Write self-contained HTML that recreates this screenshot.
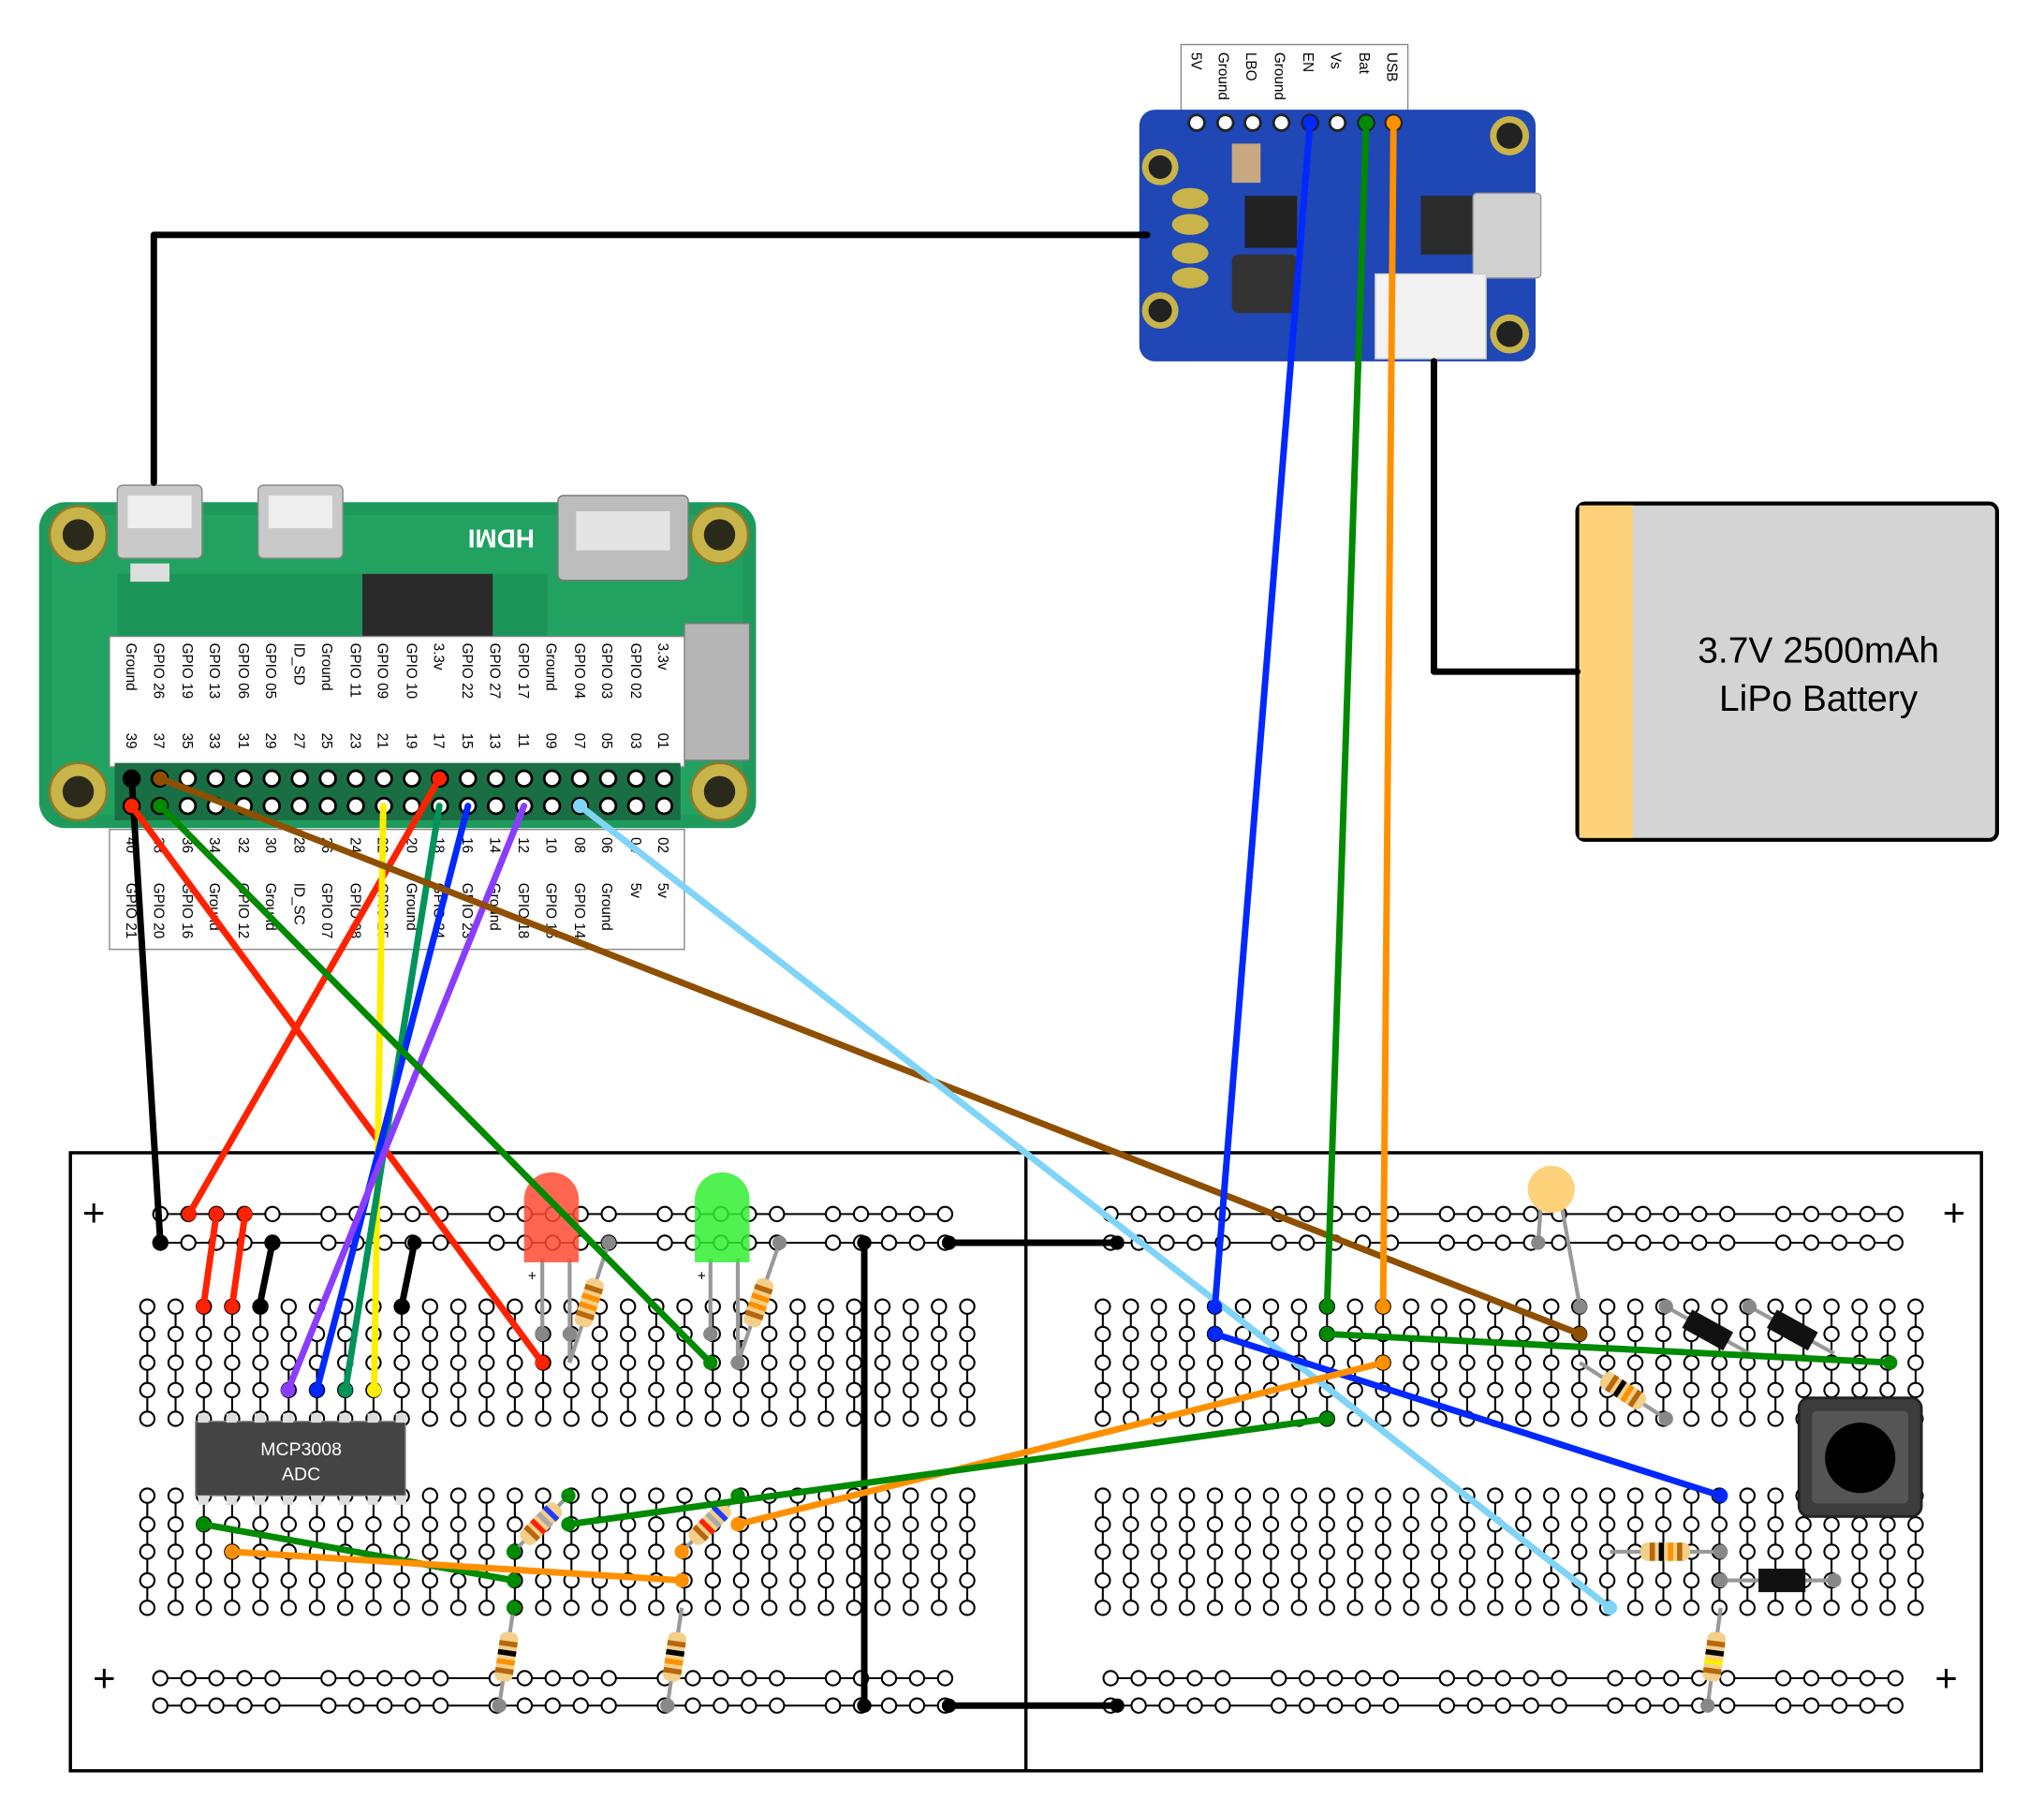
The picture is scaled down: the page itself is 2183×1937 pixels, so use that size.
<!DOCTYPE html>
<html><head><meta charset="utf-8"><style>
html,body{margin:0;padding:0;background:#fff}
svg{display:block}
text{font-family:"Liberation Sans",sans-serif}
</style></head><body>
<svg id="s" width="2183" height="1937" viewBox="0 0 1568 1391" xmlns="http://www.w3.org/2000/svg">
<rect x="0" y="0" width="1568" height="1391" fill="#fff"/>
<rect x="54" y="884" width="1466" height="474" fill="#fff" stroke="#000" stroke-width="2.5"/>
<line x1="787" y1="884" x2="787" y2="1358" stroke="#000" stroke-width="2.5"/>
<text x="72" y="940" font-size="30" text-anchor="middle">+</text>
<text x="1499" y="940" font-size="30" text-anchor="middle">+</text>
<text x="80" y="1297" font-size="30" text-anchor="middle">+</text>
<text x="1493" y="1297" font-size="30" text-anchor="middle">+</text>
<g id="holes"></g>

<rect x="30" y="385" width="550" height="250" rx="20" fill="#1e9b5c"/>
<rect x="40" y="395" width="530" height="230" rx="14" fill="#23a764" opacity="0.6"/>
<path d="M90 440 L420 440 L420 500 L90 500Z" fill="#178a4f" opacity="0.5"/>
<rect x="278" y="440" width="100" height="50" fill="#2a2a2a"/>
<rect x="100" y="432" width="30" height="14" fill="#ddd"/>
<rect x="90" y="372" width="65" height="56" rx="4" fill="#c9c9c9" stroke="#888"/>
<rect x="98" y="380" width="49" height="25" fill="#eee"/>
<rect x="198" y="372" width="65" height="56" rx="4" fill="#c9c9c9" stroke="#888"/>
<rect x="206" y="380" width="49" height="25" fill="#eee"/>
<rect x="428" y="380" width="100" height="65" rx="4" fill="#bdbdbd" stroke="#777"/>
<rect x="442" y="392" width="72" height="30" fill="#e4e4e4"/>
<rect x="525" y="478" width="50" height="105" fill="#b5b5b5" stroke="#777"/>
<text x="350" y="418" font-size="20" font-weight="bold" fill="#fff" transform="rotate(180 380 412)">HDMI</text>
<g fill="#c9b44a" stroke="#8a7a2a" stroke-width="2">
<circle cx="60" cy="410" r="22"/><circle cx="552" cy="410" r="22"/><circle cx="60" cy="607" r="22"/><circle cx="552" cy="607" r="22"/></g>
<g fill="#2b2a1a"><circle cx="60" cy="410" r="12"/><circle cx="552" cy="410" r="12"/><circle cx="60" cy="607" r="12"/><circle cx="552" cy="607" r="12"/></g>
<rect x="84" y="488" width="441" height="100" fill="#fff" stroke="#888"/>
<rect x="84" y="636" width="441" height="92" fill="#fff" stroke="#888"/>
<rect x="88" y="585" width="434" height="44" fill="#1a6e44"/>
<g id="pihdr"></g>
<g font-size="11" fill="#000">
<text transform="translate(97 493) rotate(90)">Ground</text>
<text transform="translate(118 493) rotate(90)">GPIO 26</text>
<text transform="translate(140 493) rotate(90)">GPIO 19</text>
<text transform="translate(161 493) rotate(90)">GPIO 13</text>
<text transform="translate(183 493) rotate(90)">GPIO 06</text>
<text transform="translate(204 493) rotate(90)">GPIO 05</text>
<text transform="translate(226 493) rotate(90)">ID_SD</text>
<text transform="translate(247 493) rotate(90)">Ground</text>
<text transform="translate(269 493) rotate(90)">GPIO 11</text>
<text transform="translate(290 493) rotate(90)">GPIO 09</text>
<text transform="translate(312 493) rotate(90)">GPIO 10</text>
<text transform="translate(333 493) rotate(90)">3.3v</text>
<text transform="translate(355 493) rotate(90)">GPIO 22</text>
<text transform="translate(376 493) rotate(90)">GPIO 27</text>
<text transform="translate(398 493) rotate(90)">GPIO 17</text>
<text transform="translate(419 493) rotate(90)">Ground</text>
<text transform="translate(441 493) rotate(90)">GPIO 04</text>
<text transform="translate(462 493) rotate(90)">GPIO 03</text>
<text transform="translate(484 493) rotate(90)">GPIO 02</text>
<text transform="translate(505 493) rotate(90)">3.3v</text>
<text transform="translate(97 562) rotate(90)">39</text>
<text transform="translate(118 562) rotate(90)">37</text>
<text transform="translate(140 562) rotate(90)">35</text>
<text transform="translate(161 562) rotate(90)">33</text>
<text transform="translate(183 562) rotate(90)">31</text>
<text transform="translate(204 562) rotate(90)">29</text>
<text transform="translate(226 562) rotate(90)">27</text>
<text transform="translate(247 562) rotate(90)">25</text>
<text transform="translate(269 562) rotate(90)">23</text>
<text transform="translate(290 562) rotate(90)">21</text>
<text transform="translate(312 562) rotate(90)">19</text>
<text transform="translate(333 562) rotate(90)">17</text>
<text transform="translate(355 562) rotate(90)">15</text>
<text transform="translate(376 562) rotate(90)">13</text>
<text transform="translate(398 562) rotate(90)">11</text>
<text transform="translate(419 562) rotate(90)">09</text>
<text transform="translate(441 562) rotate(90)">07</text>
<text transform="translate(462 562) rotate(90)">05</text>
<text transform="translate(484 562) rotate(90)">03</text>
<text transform="translate(505 562) rotate(90)">01</text>
<text transform="translate(97 642) rotate(90)">40</text>
<text transform="translate(118 642) rotate(90)">38</text>
<text transform="translate(140 642) rotate(90)">36</text>
<text transform="translate(161 642) rotate(90)">34</text>
<text transform="translate(183 642) rotate(90)">32</text>
<text transform="translate(204 642) rotate(90)">30</text>
<text transform="translate(226 642) rotate(90)">28</text>
<text transform="translate(247 642) rotate(90)">26</text>
<text transform="translate(269 642) rotate(90)">24</text>
<text transform="translate(290 642) rotate(90)">22</text>
<text transform="translate(312 642) rotate(90)">20</text>
<text transform="translate(333 642) rotate(90)">18</text>
<text transform="translate(355 642) rotate(90)">16</text>
<text transform="translate(376 642) rotate(90)">14</text>
<text transform="translate(398 642) rotate(90)">12</text>
<text transform="translate(419 642) rotate(90)">10</text>
<text transform="translate(441 642) rotate(90)">08</text>
<text transform="translate(462 642) rotate(90)">06</text>
<text transform="translate(484 642) rotate(90)">04</text>
<text transform="translate(505 642) rotate(90)">02</text>
<text transform="translate(97 677) rotate(90)">GPIO 21</text>
<text transform="translate(118 677) rotate(90)">GPIO 20</text>
<text transform="translate(140 677) rotate(90)">GPIO 16</text>
<text transform="translate(161 677) rotate(90)">Ground</text>
<text transform="translate(183 677) rotate(90)">GPIO 12</text>
<text transform="translate(204 677) rotate(90)">Ground</text>
<text transform="translate(226 677) rotate(90)">ID_SC</text>
<text transform="translate(247 677) rotate(90)">GPIO 07</text>
<text transform="translate(269 677) rotate(90)">GPIO 08</text>
<text transform="translate(290 677) rotate(90)">GPIO 25</text>
<text transform="translate(312 677) rotate(90)">Ground</text>
<text transform="translate(333 677) rotate(90)">GPIO 24</text>
<text transform="translate(355 677) rotate(90)">GPIO 23</text>
<text transform="translate(376 677) rotate(90)">Ground</text>
<text transform="translate(398 677) rotate(90)">GPIO 18</text>
<text transform="translate(419 677) rotate(90)">GPIO 15</text>
<text transform="translate(441 677) rotate(90)">GPIO 14</text>
<text transform="translate(462 677) rotate(90)">Ground</text>
<text transform="translate(484 677) rotate(90)">5v</text>
<text transform="translate(505 677) rotate(90)">5v</text>
</g>

<rect x="906" y="34" width="174" height="52" fill="#fff" stroke="#888"/>
<g font-size="11">
<text transform="translate(914 40) rotate(90)">5V</text>
<text transform="translate(935 40) rotate(90)">Ground</text>
<text transform="translate(956 40) rotate(90)">LBO</text>
<text transform="translate(978 40) rotate(90)">Ground</text>
<text transform="translate(1000 40) rotate(90)">EN</text>
<text transform="translate(1021 40) rotate(90)">Vs</text>
<text transform="translate(1043 40) rotate(90)">Bat</text>
<text transform="translate(1064 40) rotate(90)">USB</text>
</g>
<rect x="874" y="84" width="304" height="193" rx="12" fill="#1f47b5"/>
<rect x="955" y="150" width="40" height="40" fill="#222"/>
<rect x="945" y="195" width="50" height="45" rx="5" fill="#333"/>
<rect x="1090" y="150" width="45" height="45" fill="#2b2b2b"/>
<rect x="1130" y="148" width="52" height="65" rx="3" fill="#d0d0d0" stroke="#999"/>
<rect x="1055" y="210" width="85" height="65" fill="#f2f2f2" stroke="#ccc"/>
<rect x="945" y="110" width="22" height="30" fill="#c8a880"/>
<g fill="#c9b44a"><circle cx="890" cy="128" r="14"/><circle cx="890" cy="238" r="14"/><circle cx="1158" cy="104" r="15"/><circle cx="1158" cy="256" r="15"/></g>
<g fill="#222"><circle cx="890" cy="128" r="9"/><circle cx="890" cy="238" r="9"/><circle cx="1158" cy="104" r="10"/><circle cx="1158" cy="256" r="10"/></g>
<g fill="#c9b44a"><ellipse cx="913" cy="172" rx="14" ry="8"/><ellipse cx="913" cy="194" rx="14" ry="8"/><ellipse cx="913" cy="213" rx="14" ry="8"/><ellipse cx="913" cy="152" rx="14" ry="8"/></g>
<g fill="#fff" stroke="#222" stroke-width="2">
<circle cx="918" cy="94" r="6"/><circle cx="940" cy="94" r="6"/><circle cx="961" cy="94" r="6"/><circle cx="983" cy="94" r="6"/><circle cx="1005" cy="94" r="6"/><circle cx="1026" cy="94" r="6"/><circle cx="1048" cy="94" r="6"/><circle cx="1069" cy="94" r="6"/></g>

<rect x="1210" y="386" width="322" height="258" rx="6" fill="#d4d4d4" stroke="#000" stroke-width="3"/>
<rect x="1211.5" y="387.5" width="41" height="255" fill="#fdd27a"/>
<text x="1395" y="508" font-size="28" text-anchor="middle">3.7V 2500mAh</text>
<text x="1395" y="545" font-size="28" text-anchor="middle">LiPo Battery</text>

<rect x="150" y="1090" width="161" height="57" fill="#444" stroke="#888"/>
<text x="231" y="1116" font-size="14" fill="#fff" text-anchor="middle">MCP3008</text>
<text x="231" y="1135" font-size="14" fill="#fff" text-anchor="middle">ADC</text>
<g fill="#ddd" id="chippins"></g>
<g stroke="#999" stroke-width="3"><line x1="416" y1="965" x2="416" y2="1023"/><line x1="437" y1="965" x2="437" y2="1045"/><line x1="545" y1="965" x2="545" y2="1023"/><line x1="566" y1="965" x2="566" y2="1045"/></g>
<path d="M402 968 L402 920 A21 21 0 0 1 444 920 L444 968Z" fill="#ff4b33" opacity="0.85"/>
<path d="M533 968 L533 920 A21 21 0 0 1 575 920 L575 968Z" fill="#33ee33" opacity="0.85"/>
<text x="405" y="982" font-size="11">+</text><text x="535" y="982" font-size="11">+</text>
<g id="res"></g>
<line x1="1182" y1="925" x2="1180" y2="953" stroke="#999" stroke-width="3"/>
<line x1="1198" y1="925" x2="1212" y2="1002" stroke="#999" stroke-width="3"/>
<circle cx="1190" cy="912" r="18" fill="#fdd27a"/>
<g stroke="#999" stroke-width="3"><line x1="1278" y1="1002" x2="1342" y2="1038"/><line x1="1342" y1="1002" x2="1407" y2="1038"/><line x1="1320" y1="1212" x2="1407" y2="1212"/></g>
<rect x="-18" y="-8" width="36" height="16" fill="#111" transform="translate(1310 1020) rotate(29)"/>
<rect x="-18" y="-8" width="36" height="16" fill="#111" transform="translate(1375 1020) rotate(29)"/>
<rect x="1349" y="1203" width="36" height="18" fill="#111"/>
<rect x="1380" y="1072" width="94" height="91" rx="8" fill="#3c3c3c" stroke="#222" stroke-width="2"/>
<rect x="1390" y="1082" width="74" height="71" rx="4" fill="#555"/>
<circle cx="1427" cy="1118" r="27" fill="#000"/>

<g fill="none" stroke-width="5" stroke-linecap="round" stroke-linejoin="round">
<polyline points="118,370 118,180 880,180" stroke="#000"/>
<polyline points="1100,277 1100,515 1210,515" stroke="#000"/>
<line x1="101" y1="597" x2="123" y2="953" stroke="#000"/>
<line x1="209" y1="953" x2="199" y2="1002" stroke="#000"/>
<line x1="318" y1="953" x2="308" y2="1002" stroke="#000"/>
<line x1="663" y1="953" x2="663" y2="1308" stroke="#000"/>
<line x1="728" y1="953" x2="857" y2="953" stroke="#000"/>
<line x1="728" y1="1308" x2="857" y2="1308" stroke="#000"/>
<line x1="166" y1="931" x2="156" y2="1002" stroke="#ff2200"/>
<line x1="188" y1="931" x2="178" y2="1002" stroke="#ff2200"/>
<line x1="337" y1="597" x2="145" y2="931" stroke="#ff2200"/>
<line x1="101" y1="618" x2="416" y2="1045" stroke="#ff2200"/>
<line x1="294" y1="618" x2="287" y2="1066" stroke="#ffee00"/>
<line x1="337" y1="618" x2="265" y2="1066" stroke="#00935a"/>
<line x1="359" y1="618" x2="243" y2="1066" stroke="#0028ff"/>
<line x1="402" y1="618" x2="221" y2="1066" stroke="#8b3dff"/>
<line x1="123" y1="618" x2="545" y2="1045" stroke="#008a00"/>
<line x1="123" y1="597" x2="1212" y2="1023" stroke="#8f4f00"/>
<line x1="445" y1="618" x2="1235" y2="1233" stroke="#7fd4f7"/>
<line x1="1005" y1="94" x2="932" y2="1002" stroke="#0028ff"/>
<line x1="1048" y1="94" x2="1018" y2="1002" stroke="#008a00"/>
<line x1="1069" y1="94" x2="1061" y2="1002" stroke="#ff9000"/>
<line x1="932" y1="1023" x2="1320" y2="1147" stroke="#0028ff"/>
<line x1="1018" y1="1023" x2="1450" y2="1045" stroke="#008a00"/>
<line x1="1061" y1="1045" x2="566" y2="1169" stroke="#ff9000"/>
<line x1="1018" y1="1088" x2="436" y2="1169" stroke="#008a00"/>
<line x1="156" y1="1169" x2="394" y2="1212" stroke="#008a00"/>
<line x1="178" y1="1190" x2="523" y2="1212" stroke="#ff9000"/>
</g>
<g id="ends"></g>
</svg>
<script>
(function(){
var NS="http://www.w3.org/2000/svg";
function el(p,t,a){var e=document.createElementNS(NS,t);for(var k in a)e.setAttribute(k,a[k]);p.appendChild(e);return e;}
var H=document.getElementById('holes');
function col(x,ys){el(H,'line',{x1:x,y1:ys[0],x2:x,y2:ys[ys.length-1],stroke:'#000','stroke-width':1.5});ys.forEach(function(y){el(H,'circle',{cx:x,cy:y,r:5.5,fill:'#fff',stroke:'#000','stroke-width':1.5});});}
var rowsA=[1002,1023,1045,1066,1088],rowsB=[1147,1169,1190,1212,1233];
for(var i=0;i<30;i++){var x=113+i*21.69;col(x,rowsA);col(x,rowsB);var x2=846+i*21.5;col(x2,rowsA);col(x2,rowsB);}
function rail(x0,y){for(var g=0;g<5;g++){var gx=x0+g*129;el(H,'line',{x1:gx,y1:y,x2:gx+86+(g<4?43:0),y2:y,stroke:'#000','stroke-width':1.5});}
for(var g2=0;g2<5;g2++)for(var j=0;j<5;j++)el(H,'circle',{cx:x0+g2*129+j*21.5,cy:y,r:5.5,fill:'#fff',stroke:'#000','stroke-width':1.5});}
[931,953,1287,1308].forEach(function(y){rail(123,y);rail(852,y);});
var P=document.getElementById('pihdr');
for(var i2=0;i2<20;i2++){(function(x){[597,618].forEach(function(y){el(P,'circle',{cx:x,cy:y,r:6,fill:'#fff',stroke:'#000','stroke-width':2});});})(101+i2*21.5);}
var C=document.getElementById('chippins');
for(var k=0;k<8;k++){var cx0=156+k*21.66;el(C,'rect',{x:cx0-4,y:1084,width:8,height:7});el(C,'rect',{x:cx0-4,y:1147,width:8,height:7});}
var R=document.getElementById('res');
function res(x1,y1,x2,y2,bands){el(R,'line',{x1:x1,y1:y1,x2:x2,y2:y2,stroke:'#999','stroke-width':3});
var cx=(x1+x2)/2,cy=(y1+y2)/2,a=Math.atan2(y2-y1,x2-x1)*180/Math.PI;var g=el(R,'g',{transform:'translate('+cx+' '+cy+') rotate('+a+')'});
el(g,'rect',{x:-19,y:-7,width:38,height:14,rx:5,fill:'#f3cf8a'});bands.forEach(function(c,n){el(g,'rect',{x:-12+n*7,y:-7,width:4,height:14,fill:c});});}
res(437,1045,467,953,['#b8670a','#ff9000','#ff9000','#b8670a']);
res(566,1045,598,953,['#b8670a','#ff9000','#ff9000','#b8670a']);
res(394,1190,436,1147,['#b8670a','#ff2200','#aaa','#1d3cff']);
res(523,1190,566,1147,['#b8670a','#ff2200','#aaa','#1d3cff']);
res(394,1233,383,1308,['#b8670a','#000','#ff9000','#b8670a']);
res(523,1233,512,1308,['#b8670a','#000','#ff9000','#b8670a']);
res(1212,1045,1278,1088,['#b8670a','#000','#ff9000','#b8670a']);
res(1235,1190,1320,1190,['#b8670a','#000','#ff9000','#b8670a']);
res(1320,1233,1310,1308,['#b8670a','#000','#ffee00','#b8670a']);
var E=document.getElementById('ends');
[[123,953,'#000'],[101,597,'#000'],[209,953,'#000'],[199,1002,'#000'],[318,953,'#000'],[308,1002,'#000'],[663,953,'#000'],[663,1308,'#000'],[728,953,'#000'],[857,953,'#000'],[728,1308,'#000'],[857,1308,'#000'],
[145,931,'#ff2200'],[166,931,'#ff2200'],[188,931,'#ff2200'],[156,1002,'#ff2200'],[178,1002,'#ff2200'],[416,1045,'#ff2200'],[337,597,'#ff2200'],[101,618,'#ff2200'],
[287,1066,'#ffee00'],[265,1066,'#00935a'],[243,1066,'#0028ff'],[221,1066,'#8b3dff'],[545,1045,'#008a00'],[123,618,'#008a00'],[123,597,'#8f4f00'],[1212,1023,'#8f4f00'],[445,618,'#7fd4f7'],[1235,1233,'#7fd4f7'],
[932,1002,'#0028ff'],[1018,1002,'#008a00'],[1061,1002,'#ff9000'],[932,1023,'#0028ff'],[1320,1147,'#0028ff'],[1018,1023,'#008a00'],[1450,1045,'#008a00'],[1061,1045,'#ff9000'],[566,1169,'#ff9000'],[1018,1088,'#008a00'],[436,1169,'#008a00'],[156,1169,'#008a00'],[394,1212,'#008a00'],[178,1190,'#ff9000'],[523,1212,'#ff9000'],
[1005,94,'#0028ff'],[1048,94,'#008a00'],[1069,94,'#ff9000'],
[416,1023,'#888'],[437,1023,'#888'],[545,1023,'#888'],[566,1045,'#888'],[467,953,'#888'],[598,953,'#888'],[394,1190,'#008a00'],[436,1147,'#008a00'],[523,1190,'#ff9000'],[566,1147,'#008a00'],[394,1233,'#008a00'],[383,1308,'#888'],[512,1308,'#888'],[1180,953,'#888'],[1212,1002,'#888'],[1278,1002,'#888'],[1342,1002,'#888'],[1278,1088,'#888'],[1320,1190,'#888'],[1320,1212,'#888'],[1407,1212,'#888'],[1310,1308,'#888']
].forEach(function(p){el(E,'circle',{cx:p[0],cy:p[1],r:5.5,fill:p[2]});});
})();
</script>
</body></html>
